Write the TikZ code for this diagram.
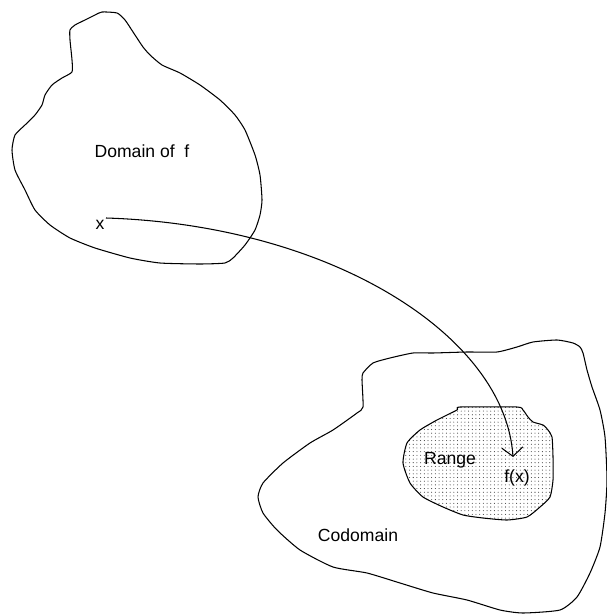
\documentclass[tikz,border=0pt]{standalone}
\usepackage{fontspec}
\setmainfont{Liberation Sans}
\usepackage{tikz}
\usetikzlibrary{patterns.meta,arrows.meta}

\begin{document}
\begin{tikzpicture}[x=0.02cm,y=-0.02cm,>={Straight Barb[length=5pt,width=12pt]},line width=0.6pt]
\tikzstyle{blob}=[draw=black,line join=round]
\tikzstyle{lab}=[inner sep=1pt,font=\normalsize]
\useasboundingbox (0,0) rectangle (607,614);
% domain of f
\draw[blob] plot[smooth cycle,tension=0.35] coordinates {
  (102,12) (117,13) (125,20) (135,35) (143,47) (150,55) (162,65) (180,73)
  (200,85) (220,100) (235,115) (245,130) (255,155) (260,175) (262,200)
  (260,215) (255,230) (245,245) (233,258) (225,263) (200,264) (160,263)
  (130,258) (95,248) (70,238) (50,225) (35,210) (25,190) (15,170) (12,150)
  (15,135) (25,125) (35,115) (42,105) (45,95) (52,85) (62,78) (72,72)
  (72,60) (70,40) (70,30) (75,25) (85,20) (95,15)};
% codomain
\draw[blob] plot[smooth cycle,tension=0.35] coordinates {
  (413,353) (390,358) (373,363) (363,373) (362,380) (363,407) (357,413)
  (333,430) (310,443) (283,463) (263,483) (258,497) (263,513) (277,530)
  (300,550) (333,567) (367,573) (400,583) (433,593) (467,600) (500,610)
  (523,613) (560,610) (577,597) (590,573) (600,547) (605,513) (607,480)
  (605,437) (600,410) (592,387) (587,370) (583,353) (580,347) (573,343)
  (557,340) (533,342) (517,347) (497,352) (467,352) (433,353)};
% range
\draw[blob,pattern={Dots[distance=2.1pt,radius=0.3pt]},pattern color=black!80]
  plot[smooth cycle,tension=0.35] coordinates {
  (460,407) (517,407) (523,410) (528,417) (533,422) (543,425) (548,430)
  (552,437) (553,457) (553,480) (550,497) (540,507) (527,517) (507,520)
  (483,518) (463,515) (443,507) (423,497) (410,483) (403,463) (407,443)
  (420,430) (437,420) (457,410)};

\node[lab] (domain) at (142,151) {Domain of\ \ f};
\node[lab] (x) at (100,225) {x};
\node[lab] (codomain) at (358,535) {Codomain};
\node[lab] (range) at (450,460) {Range};
\node[lab] (fx) at (517,478) {f(x)};

\coordinate (xstart) at (106,218);
\coordinate (fxtip) at (513,457);
\draw[->] (xstart) .. controls (330,225) and (505,335) .. (fxtip);
\end{tikzpicture}
\end{document}
